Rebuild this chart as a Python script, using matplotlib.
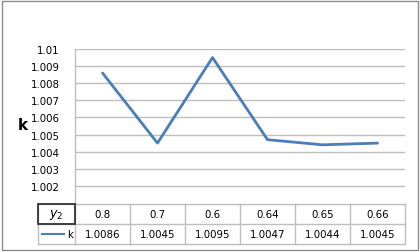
import matplotlib
matplotlib.use("Agg")
import matplotlib.pyplot as plt
from matplotlib.patches import Rectangle

categories = ["0.8", "0.7", "0.6", "0.64", "0.65", "0.66"]
k_values = [1.0086, 1.0045, 1.0095, 1.0047, 1.0044, 1.0045]
k_labels = ["1.0086", "1.0045", "1.0095", "1.0047", "1.0044", "1.0045"]
y_ticks = [1.002, 1.003, 1.004, 1.005, 1.006, 1.007, 1.008, 1.009, 1.01]
y_tick_labels = ["1.002", "1.003", "1.004", "1.005", "1.006", "1.007", "1.008", "1.009", "1.01"]

W, H = 420, 253
fig = plt.figure(figsize=(W / 100, H / 100), dpi=100)
fig.patch.set_facecolor("white")

def fx(px):
    return px / W

def fy(py):
    return 1 - py / H

line_color = "#4A7EBB"
grid_color = "#BEBEBE"
text_color = "#000000"
fs = 7.4

# outer border
fig.add_artist(Rectangle((fx(2), fy(251)), fx(416), (249) / H, transform=fig.transFigure,
                         fill=False, edgecolor="#8C8C8C", linewidth=1.0))

# main axes
left, right, top, bottom = 75, 405, 50, 204
ax = fig.add_axes([fx(left), fy(bottom), fx(right - left), (bottom - top) / H])
n = len(categories)
xs = list(range(n))
ax.set_xlim(-0.5, n - 0.5)
ax.set_ylim(1.001, 1.01)
ax.set_yticks(y_ticks)
ax.set_yticklabels(y_tick_labels, fontsize=fs, color=text_color)
ax.tick_params(axis="y", length=0, pad=11)
ax.set_xticks([])
for sp in ["top", "right", "bottom"]:
    ax.spines[sp].set_visible(False)
ax.spines["left"].set_color(grid_color)
ax.spines["left"].set_linewidth(1.0)
for t in y_ticks:
    ax.axhline(t, color=grid_color, linewidth=1.0, zorder=1)
ax.plot(xs, k_values, color=line_color, linewidth=2.0, zorder=3, solid_capstyle="round")

fig.text(fx(23), fy(126), "k", fontsize=11, fontweight="bold", ha="center", va="center")

# data table
tleft, ttop, tbottom = 38, 205, 245
hdr_w = (left - tleft) / ((right - left) / n)
tax = fig.add_axes([fx(tleft), fy(tbottom), fx(right - tleft), (tbottom - ttop) / H])
tax.set_xlim(-0.5 - hdr_w, n - 0.5)
tax.set_ylim(2, 0)
tax.axis("off")
x_edges = [-0.5 - hdr_w] + [i - 0.5 for i in range(n + 1)]
for xe in x_edges:
    tax.plot([xe, xe], [0, 2], color=grid_color, linewidth=1.0, clip_on=False)
for ye in [0, 1, 2]:
    tax.plot([x_edges[0], x_edges[-1]], [ye, ye], color=grid_color, linewidth=1.0, clip_on=False)
# header cell dark border
tax.add_patch(Rectangle((x_edges[0], 0), hdr_w, 1, fill=False, edgecolor="#333333",
                        linewidth=1.3, clip_on=False, zorder=4))
tax.text(-0.5 - hdr_w / 2, 0.5, r"$y_2$", fontsize=9, ha="center", va="center")
for i in range(n):
    tax.text(i, 0.52, categories[i], fontsize=fs, ha="center", va="center", color=text_color)
    tax.text(i, 1.52, k_labels[i], fontsize=fs, ha="center", va="center", color=text_color)
# legend key in table
tax.plot([-0.5 - hdr_w * 0.88, -0.5 - hdr_w * 0.3], [1.5, 1.5], color=line_color,
         linewidth=1.5, clip_on=False)
tax.text(-0.5 - hdr_w * 0.12, 1.5, "k", fontsize=fs, ha="center", va="center")

fig.savefig("out.png", dpi=100)
